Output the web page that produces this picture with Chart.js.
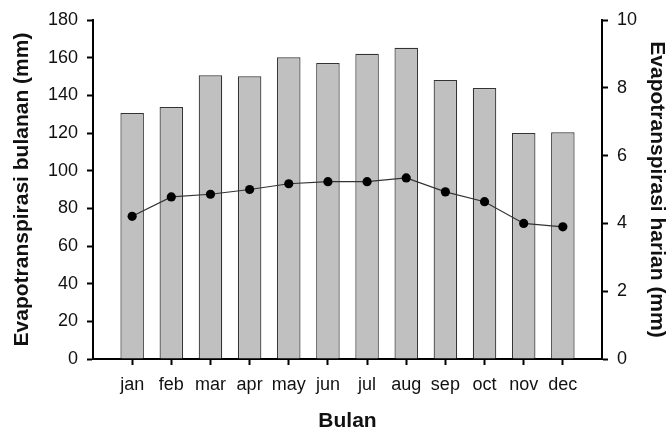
<!DOCTYPE html>
<html>
<head>
<meta charset="utf-8">
<script src="https://cdn.jsdelivr.net/npm/chart.js@4/dist/chart.umd.min.js"></script>
<style>
  html, body { margin: 0; padding: 0; background: #ffffff; }
  #wrap { width: 669px; height: 432px; }
</style>
</head>
<body>
<div id="wrap"><canvas id="chart" width="669" height="432"></canvas></div>
<script>
// Monthly evapotranspiration (bars, left axis) and daily evapotranspiration (line, right axis)
const months = ['jan', 'feb', 'mar', 'apr', 'may', 'jun', 'jul', 'aug', 'sep', 'oct', 'nov', 'dec'];
const monthlyET = [130.6, 133.8, 150.6, 150.1, 160.2, 157.2, 162.1, 165.2, 148.2, 143.9, 120.0, 120.4];
const dailyET = [4.21, 4.78, 4.86, 5.00, 5.17, 5.23, 5.23, 5.34, 4.93, 4.64, 4.00, 3.90];
const leftTicks = [0, 20, 40, 60, 80, 100, 120, 140, 160, 180];
const rightTicks = [0, 2, 4, 6, 8, 10];

const FONT = "'Liberation Sans', Arial, Helvetica, sans-serif";

// months sit at positions 1..12 on a 0..13 numeric axis, leaving half a slot of room at each end
const barPoints = monthlyET.map((v, i) => ({ x: i + 1, y: v }));
const linePoints = dailyET.map((v, i) => ({ x: i + 1, y: v }));

const tickFont = { family: FONT, size: 18 };
const titleFont = { family: FONT, size: 21, weight: 'bold', lineHeight: 1 };

new Chart(document.getElementById('chart'), {
  data: {
    datasets: [
      {
        type: 'line',
        label: 'Evapotranspirasi harian',
        data: linePoints,
        yAxisID: 'y1',
        borderColor: '#333333',
        borderWidth: 1.2,
        pointRadius: 4.6,
        pointBackgroundColor: '#000000',
        pointBorderColor: '#000000',
        pointBorderWidth: 0,
        tension: 0,
        order: 1
      },
      {
        type: 'bar',
        label: 'Evapotranspirasi bulanan',
        data: barPoints,
        yAxisID: 'y',
        backgroundColor: '#c0c0c0',
        borderColor: '#333333',
        borderWidth: 1.2,
        barPercentage: 0.6,
        categoryPercentage: 1.0,
        order: 2
      }
    ]
  },
  options: {
    responsive: false,
    animation: false,
    devicePixelRatio: 1,
    layout: { padding: { top: 20, left: 0, right: 0, bottom: 0 } },
    plugins: { legend: { display: false }, tooltip: { enabled: false } },
    scales: {
      x: {
        type: 'linear',
        min: 0,
        max: 13,
        offset: false,
        ticks: {
          stepSize: 1,
          color: '#111111',
          font: tickFont,
          padding: 9,
          maxRotation: 0,
          autoSkip: false,
          callback: (v) => months[v - 1] || ''
        },
        afterBuildTicks: (scale) => {
          scale.ticks = months.map((m, i) => ({ value: i + 1 }));
        },
        afterFit: (scale) => { scale.height = 73; },
        grid: { offset: false, drawOnChartArea: false, tickLength: 6, tickWidth: 2, tickColor: '#000000' },
        border: { display: true, color: '#000000', width: 2 },
        title: { display: true, text: 'Bulan', color: '#111111', font: titleFont, padding: { top: 0, bottom: 0 } }
      },
      y: {
        position: 'left',
        min: leftTicks[0],
        max: leftTicks[leftTicks.length - 1],
        afterBuildTicks: (scale) => { scale.ticks = leftTicks.map(v => ({ value: v })); },
        ticks: { color: '#111111', font: tickFont, padding: 9 },
        afterFit: (scale) => { scale.width = 93; },
        grid: { drawOnChartArea: false, tickLength: 6, tickWidth: 2, tickColor: '#000000' },
        border: { display: true, color: '#000000', width: 2 },
        title: { display: true, text: 'Evapotranspirasi bulanan (mm)', color: '#111111', font: titleFont, padding: { top: 12, bottom: 0 } }
      },
      y1: {
        position: 'right',
        min: rightTicks[0],
        max: rightTicks[rightTicks.length - 1],
        afterBuildTicks: (scale) => { scale.ticks = rightTicks.map(v => ({ value: v })); },
        ticks: { color: '#111111', font: tickFont, padding: 9 },
        afterFit: (scale) => { scale.width = 67; },
        grid: { drawOnChartArea: false, tickLength: 6, tickWidth: 2, tickColor: '#000000' },
        border: { display: true, color: '#000000', width: 2 },
        title: { display: true, text: 'Evapotranspirasi harian (mm)', color: '#111111', font: titleFont, padding: { top: 2, bottom: 0 } }
      }
    }
  }
});
</script>
</body>
</html>
